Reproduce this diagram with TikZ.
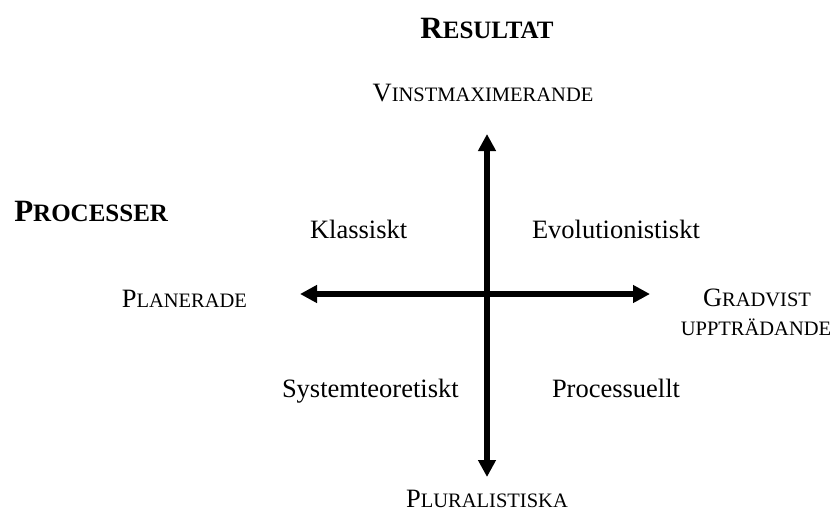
\documentclass[tikz,border=0pt]{standalone}
\usepackage{fontspec}
\setmainfont{Liberation Serif}
\usetikzlibrary{arrows.meta}
\newcommand{\fakesc}[2]{{\fontsize{26.5}{30}\selectfont #1}{\fontsize{20.5}{24}\selectfont #2}}
\newcommand{\boldsc}[2]{{\bfseries\fontsize{31}{34}\selectfont #1}{\bfseries\fontsize{25}{28}\selectfont #2}}
\newcommand{\smcaps}[1]{{\fontsize{20.5}{24}\selectfont #1}}
\tikzset{
  lbl/.style={inner sep=0pt, outer sep=0pt, font=\fontsize{26.5}{30}\selectfont},
  axis/.style={line width=5.5pt, {Triangle[length=17pt,width=17pt]}-{Triangle[length=17pt,width=17pt]}}
}
\begin{document}
\begin{tikzpicture}[x=1pt,y=-1pt]
\useasboundingbox (0,0) rectangle (834,514);
\coordinate (top) at (487,134);
\coordinate (bottom) at (487,477);
\coordinate (left) at (300,294);
\coordinate (right) at (650,294);
\draw[axis] (top) -- (bottom);
\draw[axis] (left) -- (right);
\node[lbl, anchor=base] (res) at (487,38) {\boldsc{R}{ESULTAT}};
\node[lbl, anchor=base east] (proc) at (168,221) {\boldsc{P}{ROCESSER}};
\node[lbl, anchor=base] (vinst) at (483,101) {\fakesc{V}{INSTMAXIMERANDE}};
\node[lbl, anchor=base] (plur) at (487,507) {\fakesc{P}{LURALISTISKA}};
\node[lbl, anchor=base east] (plan) at (247,307) {\fakesc{P}{LANERADE}};
\node[lbl, anchor=base] (grad) at (757,306) {\fakesc{G}{RADVIST}};
\node[lbl, anchor=base] (uppt) at (756,335) {\smcaps{UPPTRÄDANDE}};
\node[lbl, anchor=base west] (klass) at (310,238) {Klassiskt};
\node[lbl, anchor=base west] (evol) at (532,238) {Evolutionistiskt};
\node[lbl, anchor=base west] (syst) at (282,397) {Systemteoretiskt};
\node[lbl, anchor=base west] (procu) at (552,397) {Processuellt};
\end{tikzpicture}
\end{document}
